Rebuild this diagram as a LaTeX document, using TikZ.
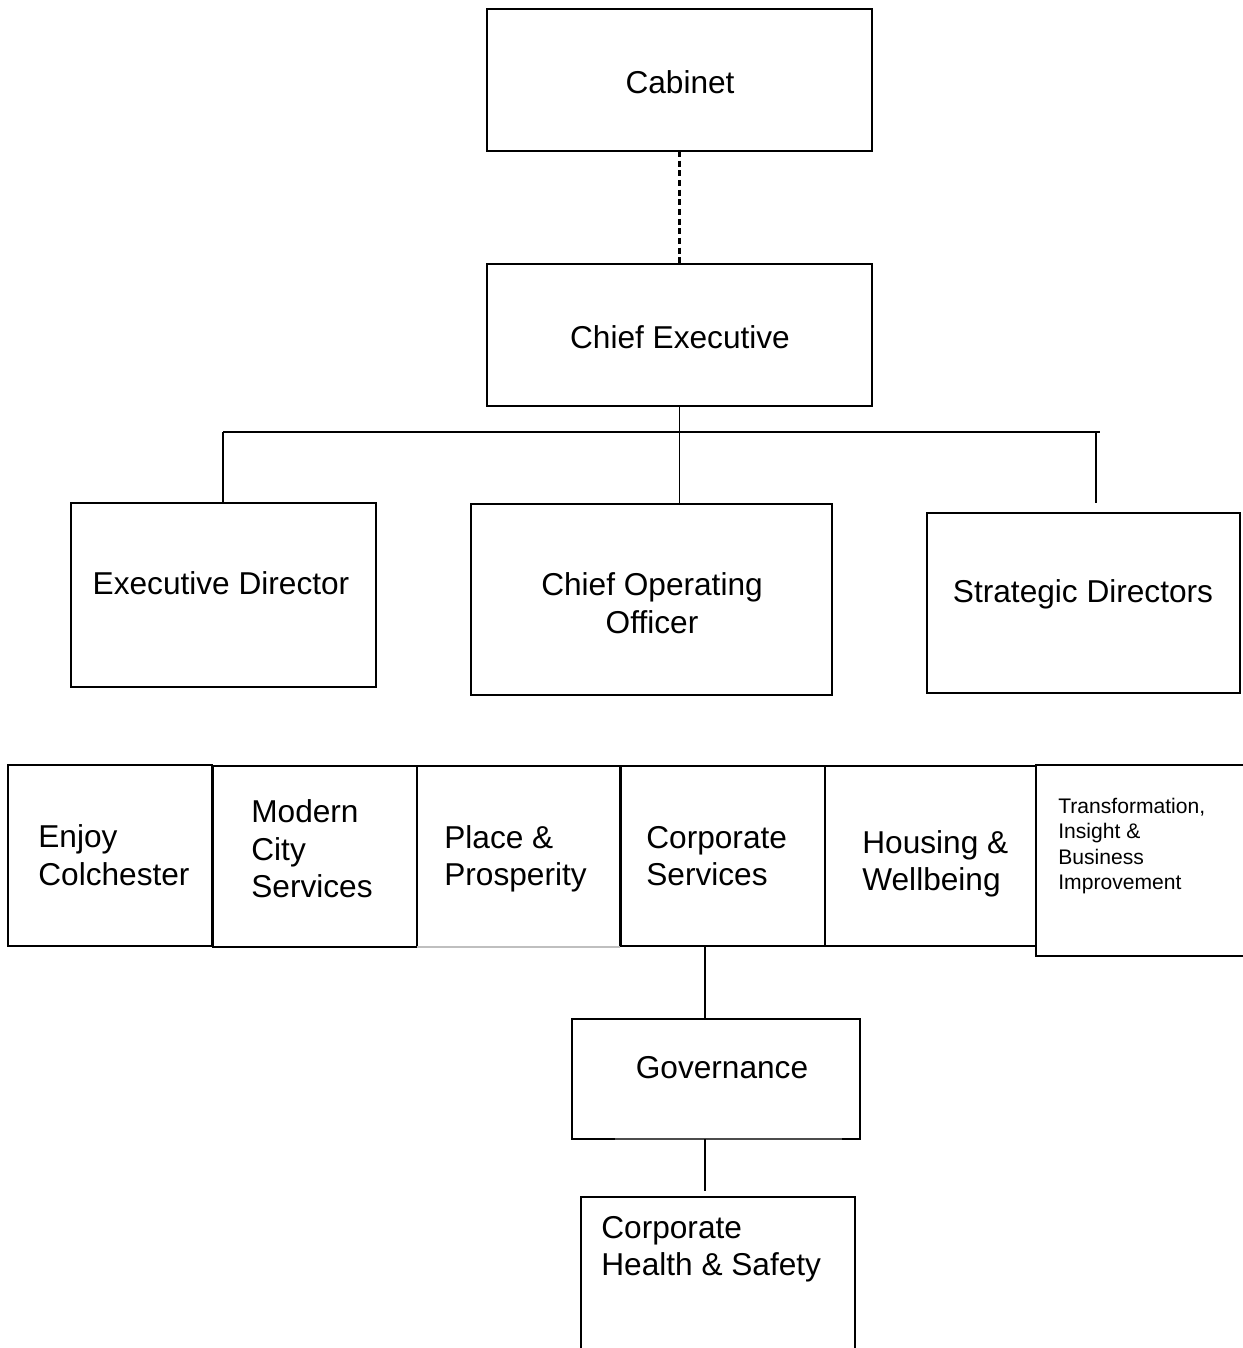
\documentclass[tikz,border=0pt]{standalone}
\usepackage{fontspec}
\setmainfont{Liberation Sans}
\begin{document}
\begin{tikzpicture}[x=0.02cm, y=-0.02cm]
			\tikzset{orgbox/.style={rectangle, draw, line width=1.1pt,
						inner sep=0pt, outer sep=0pt}}
			\tikzset{openbox/.style={rectangle, inner sep=0pt, outer sep=0pt}}
			\tikzset{orgtext/.style={inner sep=0pt, align=center,
						font=\fontsize{18pt}{21.3pt}\selectfont}}
			\tikzset{lefttext/.style={orgtext, align=left, anchor=west}}
			\tikzset{smalltext/.style={inner sep=0pt, align=left, anchor=west,
						font=\fontsize{12pt}{14.5pt}\selectfont}}
			\tikzset{orgline/.style={line width=1.1pt}}
			\tikzset{orgdash/.style={line width=1.2pt, dash pattern=on 3.5pt off 2pt}}
			\tikzset{faintline/.style={line width=0.6pt, black!25}}

				\useasboundingbox (0,0) rectangle (1242,1348);

				\node[orgbox, minimum width=7.7cm, minimum height=2.84cm] (cab) at (679.5,80) {};
				\node[orgbox, minimum width=7.7cm, minimum height=2.84cm] (ce) at (679.5,335) {};
				\node[orgbox, minimum width=6.1cm, minimum height=3.68cm] (ed) at (223.5,595) {};
				\node[orgbox, minimum width=7.22cm, minimum height=3.82cm] (coo) at (651.5,599.5) {};
				\node[orgbox, minimum width=6.26cm, minimum height=3.6cm] (sd) at (1083.5,603) {};

				\node[orgbox, minimum width=4.08cm, minimum height=3.62cm] (enjoy) at (110,855.5) {};
				\node[orgbox, minimum width=4.08cm, minimum height=3.62cm] (mcs) at (315,856.5) {};
				\node[openbox, minimum width=4.06cm, minimum height=3.62cm] (pp) at (518.5,856.5) {};
				\node[orgbox, minimum width=4.08cm, minimum height=3.6cm] (cs) at (723,856) {};
				\node[orgbox, minimum width=4.22cm, minimum height=3.6cm] (hw) at (930.5,856) {};
				\node[orgbox, line width=0.8pt, minimum width=4.28cm, minimum height=3.82cm] (tib) at (1143,860.5) {};

				\node[openbox, minimum width=5.76cm, minimum height=2.4cm] (gov) at (716,1079) {};
				\node[orgbox, line width=0.8pt, minimum width=5.48cm, minimum height=3.26cm] (chs) at (718,1278.5) {};

				\node[orgtext] (cab-t) at (680,82) {Cabinet};
				\node[orgtext] (ce-t) at (680,337) {Chief Executive};
				\node[orgtext] (ed-t) at (221,583) {Executive Director};
				\node[orgtext] (coo-t) at (652,603) {Chief Operating\\Officer};
				\node[orgtext] (sd-t) at (1083,594) {Strategic Directors};
				\node[lefttext] (enjoy-t) at (38,855) {Enjoy\\Colchester};
				\node[lefttext] (mcs-t) at (251,849) {Modern\\City\\Services};
				\node[lefttext] (pp-t) at (444,859) {Place \&\\Prosperity};
				\node[lefttext] (cs-t) at (646,856) {Corporate\\Services};
				\node[lefttext] (hw-t) at (862,864) {Housing \&\\Wellbeing};
				\node[smalltext] (tib-t) at (1058,846) {Transformation,\\Insight \&\\Business\\Improvement};
				\node[orgtext] (gov-t) at (722,1068) {Governance};
				\node[lefttext] (chs-t) at (601,1249) {Corporate\\Health \& Safety};

				\coordinate (barL) at (223,432);
				\coordinate (barR) at (1100,432);
				\coordinate (sdlink) at (1096,503);
				\coordinate (govtop) at (705,1019);
				\coordinate (chslink) at (705,1191);

				\draw[orgdash] (cab) -- (ce);
				\draw[orgline] (ce.south) -- (ce.south |- coo.north);
				\draw[orgline] (barL) -- (barR);
				\draw[orgline] (barL) -- (barL |- ed.north);
				\draw[orgline] (sdlink |- barR) -- (sdlink);

				\draw[orgline] (pp.south west) -- (pp.north west) -- (pp.north east) -- (pp.south east);
				\draw[faintline] (pp.south west) -- (pp.south east);

				\draw[orgline] ([xshift=0.86cm]gov.south west) -- (gov.south west) -- (gov.north west)
					-- (gov.north east) -- (gov.south east) -- ([xshift=-0.36cm]gov.south east);
				\draw[line width=0.8pt, black!70] ([xshift=0.86cm]gov.south west) -- ([xshift=-0.36cm]gov.south east);

				\draw[orgline] (cs.south -| govtop) -- (govtop);
				\draw[orgline] (gov.south -| chslink) -- (chslink);
		\end{tikzpicture}
\end{document}
